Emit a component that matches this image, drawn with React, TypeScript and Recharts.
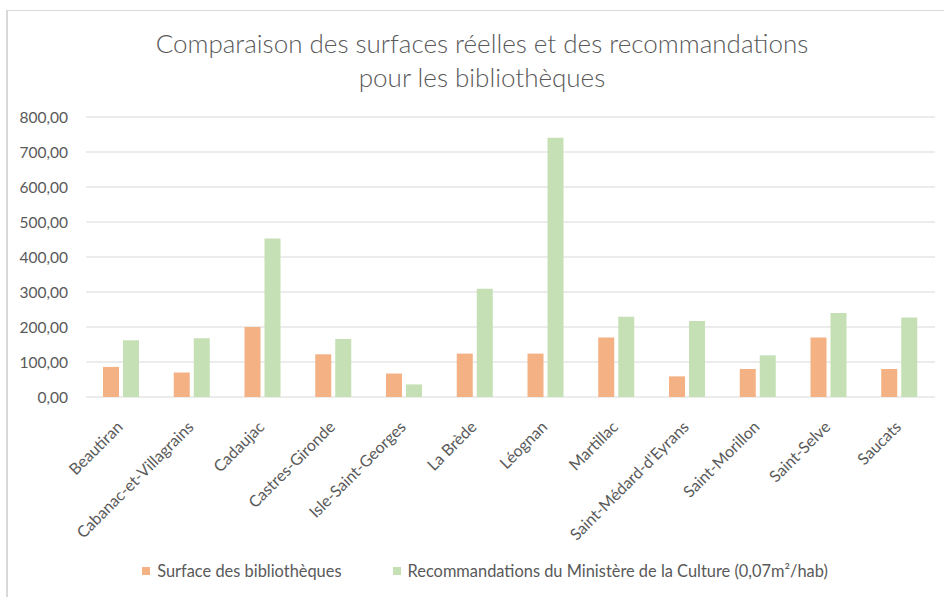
import { Bar, BarChart, CartesianGrid, XAxis, YAxis } from 'recharts'

const communes = [
  'Beautiran',
  'Cabanac-et-Villagrains',
  'Cadaujac',
  'Castres-Gironde',
  'Isle-Saint-Georges',
  'La Brède',
  'Léognan',
  'Martillac',
  "Saint-Médard-d'Eyrans",
  'Saint-Morillon',
  'Saint-Selve',
  'Saucats'
]

const surfaces = [86, 70, 200, 122, 67, 124, 124, 170, 59, 80, 170, 80]
const recommandations = [162, 168, 453, 166, 36, 309, 741, 229, 217, 119, 240, 227]

const yTicks = [0, 100, 200, 300, 400, 500, 600, 700, 800]

const seriesNames = [
  'Surface des bibliothèques',
  'Recommandations du Ministère de la Culture (0,07m²/hab)'
]
const seriesColors = ['#F4B183', '#C5E0B4']

const FONT = 'Lato, "Open Sans", sans-serif'
const TEXT = '#595959'

const data = communes.map((name, i) => ({
  name,
  surface: surfaces[i],
  reco: recommandations[i]
}))

const formatFr = (v: number) => v.toFixed(2).replace('.', ',')

function CommuneTick({ x, y, payload }: any) {
  return (
    <g transform={`translate(${x + 2.5},${y + 31}) rotate(-45)`}>
      <text textAnchor="end" fill={TEXT} fontSize={16} fontFamily={FONT}>
        {payload.value}
      </text>
    </g>
  )
}

export default function App() {
  return (
    <div
      style={{
        position: 'absolute',
        left: 0,
        top: 0,
        width: 944,
        height: 597,
        overflow: 'hidden',
        background: '#fff',
        fontFamily: FONT
      }}
    >
      <div
        style={{
          position: 'absolute',
          left: 0,
          top: 26,
          width: 964,
          textAlign: 'center',
          fontSize: 26,
          fontWeight: 300,
          lineHeight: '34px',
          color: TEXT
        }}
      >
        Comparaison des surfaces réelles et des recommandations
        <br />
        pour les bibliothèques
      </div>
      <div style={{ position: 'absolute', left: 0, top: 0 }}>
        <BarChart
          width={944}
          height={597}
          data={data}
          margin={{ top: 117, right: 9, bottom: 40, left: 0 }}
          barSize={16}
          barGap={4}
        >
          <CartesianGrid vertical={false} stroke="#d9d9d9" strokeWidth={1.2} />
          <YAxis
            width={86}
            domain={[0, 800]}
            ticks={yTicks}
            axisLine={false}
            tickLine={false}
            tickSize={0}
            tickMargin={18}
            tickFormatter={formatFr}
            tick={{ fill: TEXT, fontSize: 15.5, fontFamily: FONT }}
          />
          <XAxis
            dataKey="name"
            height={160}
            interval={0}
            axisLine={false}
            tickLine={false}
            tickSize={0}
            tickMargin={0}
            tick={<CommuneTick />}
          />
          <Bar dataKey="surface" fill={seriesColors[0]} isAnimationActive={false} />
          <Bar dataKey="reco" fill={seriesColors[1]} isAnimationActive={false} />
        </BarChart>
      </div>
      <div
        style={{
          position: 'absolute',
          left: 0,
          top: 561,
          width: 970,
          display: 'flex',
          justifyContent: 'center',
          gap: 51,
          fontSize: 16.4,
          color: TEXT
        }}
      >
        {seriesNames.map((s, i) => (
          <div key={s} style={{ display: 'flex', alignItems: 'center' }}>
            <span
              style={{
                width: 8,
                height: 8,
                background: seriesColors[i],
                marginRight: 7,
                display: 'inline-block'
              }}
            />
            <span>{s}</span>
          </div>
        ))}
      </div>
      {/* chart frame: top and left edges only, the rest runs off the page */}
      <div
        style={{
          position: 'absolute',
          left: 6,
          top: 10,
          width: 940,
          height: 1,
          background: '#d9d9d9'
        }}
      />
      <div
        style={{
          position: 'absolute',
          left: 6,
          top: 10,
          width: 2,
          height: 590,
          background: '#d9d9d9'
        }}
      />
    </div>
  )
}
